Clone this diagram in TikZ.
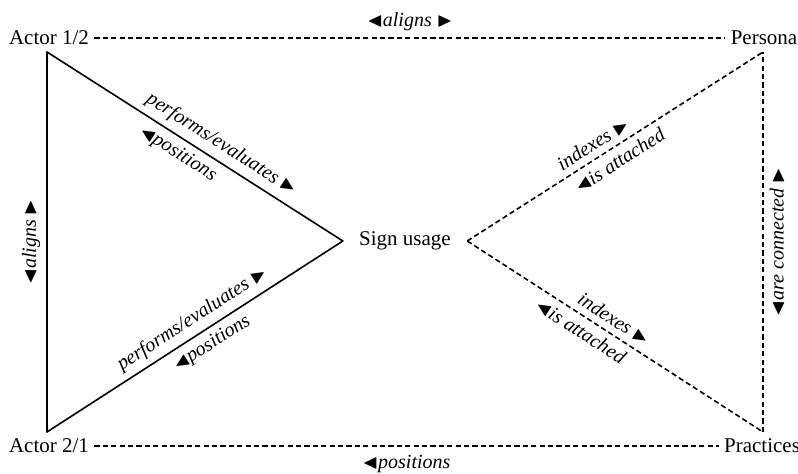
\documentclass[tikz,border=0pt]{standalone}
\usepackage{amsmath, amssymb}
\usepackage{fontspec}
\setmainfont{Liberation Serif}
\usepackage{tikz}
\usetikzlibrary{positioning, calc}
\newcommand{\tril}{$\blacktriangleleft$}
\newcommand{\trir}{$\blacktriangleright$}

\begin{document}
\begin{tikzpicture}[x=0.5pt, y=-0.5pt, font=\fontsize{10.5}{12}\selectfont,
    corner/.style={inner sep=2.5pt},
    hub/.style={inner xsep=8pt, inner ysep=1pt},
    rel/.style={font=\fontsize{10}{12}\selectfont\itshape, inner sep=3pt},
    link/.style={line width=0.8pt, line cap=round},
    weak/.style={line width=0.8pt, dash pattern=on 2.6pt off 1.6pt}]
  \useasboundingbox (0,0) rectangle (798,474);

  % names at the four corners and in the middle
  \node[corner] (act12) at (49,38)   {Actor 1/2};
  \node[corner] (act21) at (49,446)  {Actor 2/1};
  \node[corner] (pers)  at (764,38)  {Persona};
  \node[corner] (prac)  at (762,446) {Practices};
  \node[hub]    (sign)  at (405,241) {Sign usage};

  % corners of the two triangles
  \coordinate (v12) at (47,52);
  \coordinate (v21) at (47,432);
  \coordinate (vp)  at (763,52);
  \coordinate (vq)  at (763,432);

  % top and bottom lines
  \draw[weak] (act12) -- node[rel, above] {\tril aligns \trir} (pers);
  \draw[weak] (act21) -- node[rel, below, yshift=-1pt] {\tril positions} (prac);

  % actors -> sign usage (solid)
  \draw[link] (v12) -- node[rel, above, sloped, pos=0.56] {performs/evaluates \trir}
                       node[rel, below, sloped, pos=0.47] {\tril positions} (sign.west);
  \draw[link] (v21) -- node[rel, above, sloped, pos=0.52] {performs/evaluates \trir}
                       node[rel, below, sloped, pos=0.53] {\tril positions} (sign.west);
  \draw[link] (v21) -- node[rel, above, sloped] {\tril aligns \trir} (v12);

  % sign usage -> persona and practices (dashed)
  \draw[weak] (sign.east) -- node[rel, above, sloped, pos=0.45] {indexes \trir}
                             node[rel, below, sloped, pos=0.49] {\tril is attached} (vp);
  \draw[weak] (sign.east) -- node[rel, above, sloped, pos=0.47] {indexes \trir}
                             node[rel, below, sloped, pos=0.41] {\tril is attached} (vq);
  \draw[weak] (vq) -- node[rel, below, sloped] {\tril are connected \trir} (vp);
\end{tikzpicture}
\end{document}
